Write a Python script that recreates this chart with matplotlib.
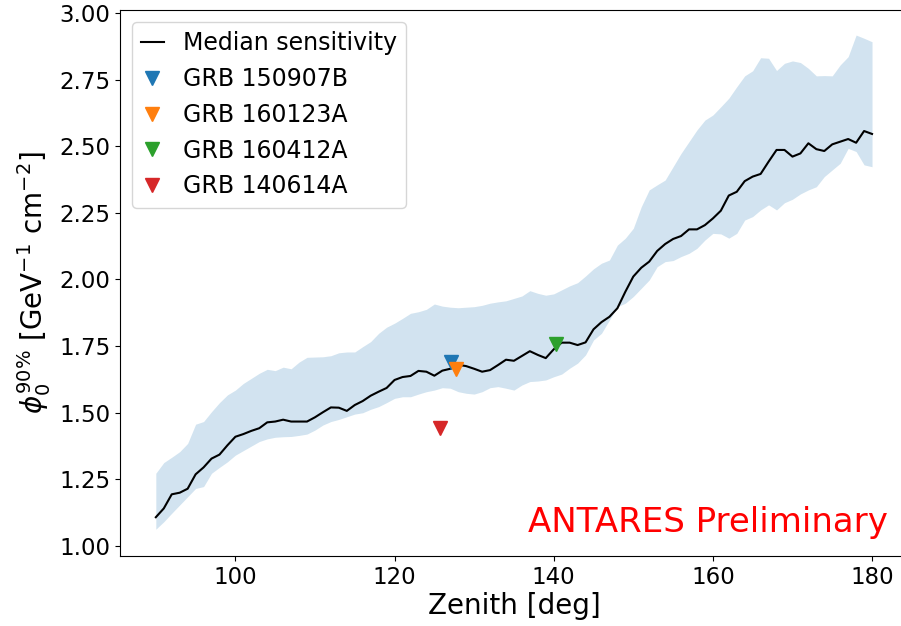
import numpy as np
import matplotlib
matplotlib.use("Agg")
import matplotlib.pyplot as plt

# Data

zenith = np.arange(90, 181)

median = [
    1.108, 1.141, 1.194, 1.200, 1.215, 1.269, 1.295, 1.328, 1.343, 1.378,
    1.410, 1.420, 1.432, 1.442, 1.464, 1.467, 1.474, 1.467, 1.467, 1.467,
    1.483, 1.502, 1.520, 1.519, 1.507, 1.529, 1.544, 1.564, 1.579, 1.593,
    1.623, 1.634, 1.638, 1.657, 1.654, 1.639, 1.658, 1.665, 1.680, 1.675,
    1.665, 1.654, 1.660, 1.679, 1.699, 1.695, 1.713, 1.731, 1.717, 1.705,
    1.738, 1.763, 1.763, 1.754, 1.764, 1.813, 1.840, 1.860, 1.892, 1.954,
    2.011, 2.044, 2.067, 2.107, 2.133, 2.152, 2.163, 2.188, 2.188, 2.204,
    2.229, 2.258, 2.315, 2.329, 2.369, 2.386, 2.396, 2.442, 2.486, 2.486,
    2.461, 2.473, 2.511, 2.489, 2.482, 2.507, 2.517, 2.527, 2.513, 2.557,
    2.546,
]

upper = [
    1.273, 1.313, 1.333, 1.354, 1.385, 1.457, 1.467, 1.504, 1.538, 1.567,
    1.585, 1.610, 1.629, 1.648, 1.663, 1.658, 1.671, 1.665, 1.690, 1.708,
    1.709, 1.710, 1.714, 1.725, 1.728, 1.728, 1.748, 1.767, 1.798, 1.821,
    1.836, 1.854, 1.873, 1.879, 1.888, 1.908, 1.900, 1.896, 1.894, 1.896,
    1.898, 1.903, 1.911, 1.916, 1.920, 1.929, 1.938, 1.958, 1.948, 1.941,
    1.946, 1.961, 1.976, 1.988, 2.013, 2.040, 2.061, 2.073, 2.129, 2.155,
    2.192, 2.273, 2.336, 2.355, 2.373, 2.423, 2.473, 2.517, 2.561, 2.598,
    2.617, 2.648, 2.680, 2.723, 2.764, 2.783, 2.832, 2.830, 2.784, 2.811,
    2.820, 2.814, 2.792, 2.764, 2.765, 2.764, 2.805, 2.836, 2.917, 2.905,
    2.892,
]

lower = [
    1.063, 1.091, 1.123, 1.154, 1.185, 1.216, 1.223, 1.273, 1.295, 1.316,
    1.341, 1.358, 1.375, 1.392, 1.402, 1.408, 1.410, 1.411, 1.415, 1.420,
    1.435, 1.454, 1.467, 1.475, 1.485, 1.495, 1.500, 1.513, 1.523, 1.538,
    1.554, 1.560, 1.560, 1.570, 1.579, 1.585, 1.594, 1.592, 1.579, 1.573,
    1.570, 1.579, 1.594, 1.598, 1.592, 1.585, 1.604, 1.617, 1.619, 1.623,
    1.635, 1.645, 1.667, 1.686, 1.717, 1.773, 1.798, 1.848, 1.898, 1.911,
    1.936, 1.967, 1.998, 2.048, 2.067, 2.071, 2.086, 2.098, 2.117, 2.148,
    2.173, 2.171, 2.155, 2.173, 2.223, 2.236, 2.261, 2.280, 2.261, 2.288,
    2.301, 2.321, 2.336, 2.348, 2.386, 2.411, 2.436, 2.492, 2.480, 2.430,
    2.423,
]

grb_names = ["GRB 150907B", "GRB 160123A", "GRB 160412A", "GRB 140614A"]
grb_zenith = [127.1, 127.7, 140.3, 125.7]
grb_flux = [1.692, 1.665, 1.757, 1.442]
grb_colors = ["C0", "C1", "C2", "C3"]

# Figure (axes runs a bit past the right edge, as in the reference)

fig = plt.figure(figsize=(9.01, 6.26), dpi=100)
ax = fig.add_axes([0.1332, 0.1118, 0.8744, 0.8722])

ax.fill_between(zenith, lower, upper, color="C0", alpha=0.2, linewidth=0)
ax.plot(zenith, median, color="black", linewidth=1.5, label="Median sensitivity")

for name, z, f, c in zip(grb_names, grb_zenith, grb_flux, grb_colors):
    ax.plot(z, f, linestyle="none", marker="v", markersize=10.5,
            color=c, label=name)

ax.set_xlim(85.5, 184.5)
ax.set_ylim(0.9625, 3.011)
ax.set_xticks([100, 120, 140, 160, 180])
ax.set_yticks([1.00, 1.25, 1.50, 1.75, 2.00, 2.25, 2.50, 2.75, 3.00])
ax.tick_params(labelsize=16.5)

ax.set_xlabel("Zenith [deg]", fontsize=20, labelpad=2)
ax.set_ylabel(r"$\phi_0^{90\%}$ [GeV$^{-1}$ cm$^{-2}$]", fontsize=20)

ax.text(182.0, 1.054, "ANTARES Preliminary", color="red", fontsize=24.5,
        ha="right", va="baseline")

ax.legend(loc="upper left", fontsize=17, handlelength=0.95)

fig.savefig("out.png", dpi=100)
